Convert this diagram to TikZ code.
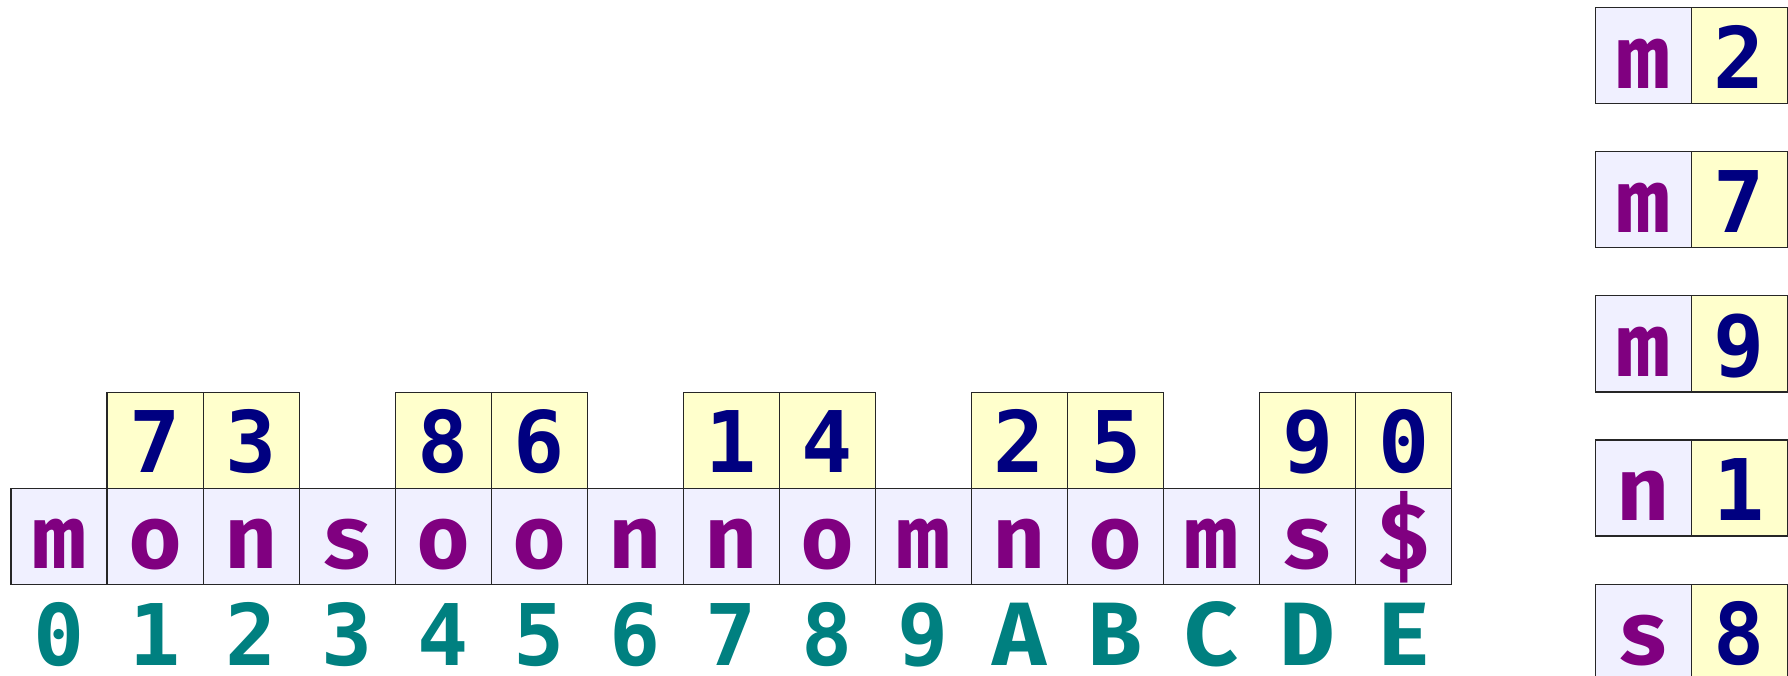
\documentclass[tikz,border=0pt]{standalone}
\usepackage{fontspec}
\newfontfamily\fira{Fira Mono Bold}
\newfontfamily\dvm{DejaVu Sans Mono}[BoldFont={DejaVu Sans Mono Bold}]
\definecolor{lav}{HTML}{F0F0FF}
\definecolor{lem}{HTML}{FFFFCC}
\definecolor{pur}{HTML}{800080}
\definecolor{nav}{HTML}{000080}
\definecolor{tel}{HTML}{008080}
\begin{document}
\begin{tikzpicture}[x=1pt,y=-1pt,
  letterfont/.style={font=\fira\fontsize{90}{90}\selectfont},
  digitfont/.style={font=\dvm\bfseries\fontsize{85}{85}\selectfont},
  cell/.style={draw=black!85, line width=1.2pt, minimum width=96.05pt,
    text height=80.5pt, text depth=15.5pt, inner sep=0pt, outer sep=0pt,
    anchor=north west},
  chcell/.style={cell, letterfont, fill=lav, text=pur},
  numcell/.style={cell, digitfont, fill=lem, text=nav},
  idx/.style={anchor=base, inner sep=0pt, text=tel}]
\useasboundingbox (0,0) rectangle (1788,676);
% bottom row: characters
\foreach \c [count=\i from 0] in {m,o,n,s,o,o,n,n,o,m,n,o,m,s,\$}
  \node[chcell] (b\i) at ({11+96.05*\i},488.3) {\c};
% top row: numbers
\foreach \i/\v in {1/7,2/3,4/8,5/6,7/1,8/4,10/2,11/5,13/9,14/0}
  \node[numcell] (t\i) at ({11+96.05*\i},392.3) {\v};
% index labels
\foreach \l [count=\i from 0] in {0,1,2,3,4,5,6,7,8,9}
  \node[idx, digitfont] (i\i) at ({11+96.05*\i+48.025},665) {\l};
\foreach \l [count=\i from 10] in {A,B,C,D,E}
  \node[idx, letterfont] (i\i) at ({11+96.05*\i+48.025},665) {\l};
% right column pairs
\foreach \c/\v [count=\k from 0] in {m/2,m/7,m/9,n/1,s/8} {
  \node[chcell] (rc\k) at (1595.3,{7.7+144.1*\k}) {\c};
  \node[numcell] (rv\k) at (1691.3,{7.7+144.1*\k}) {\v};
}
\end{tikzpicture}
\end{document}
